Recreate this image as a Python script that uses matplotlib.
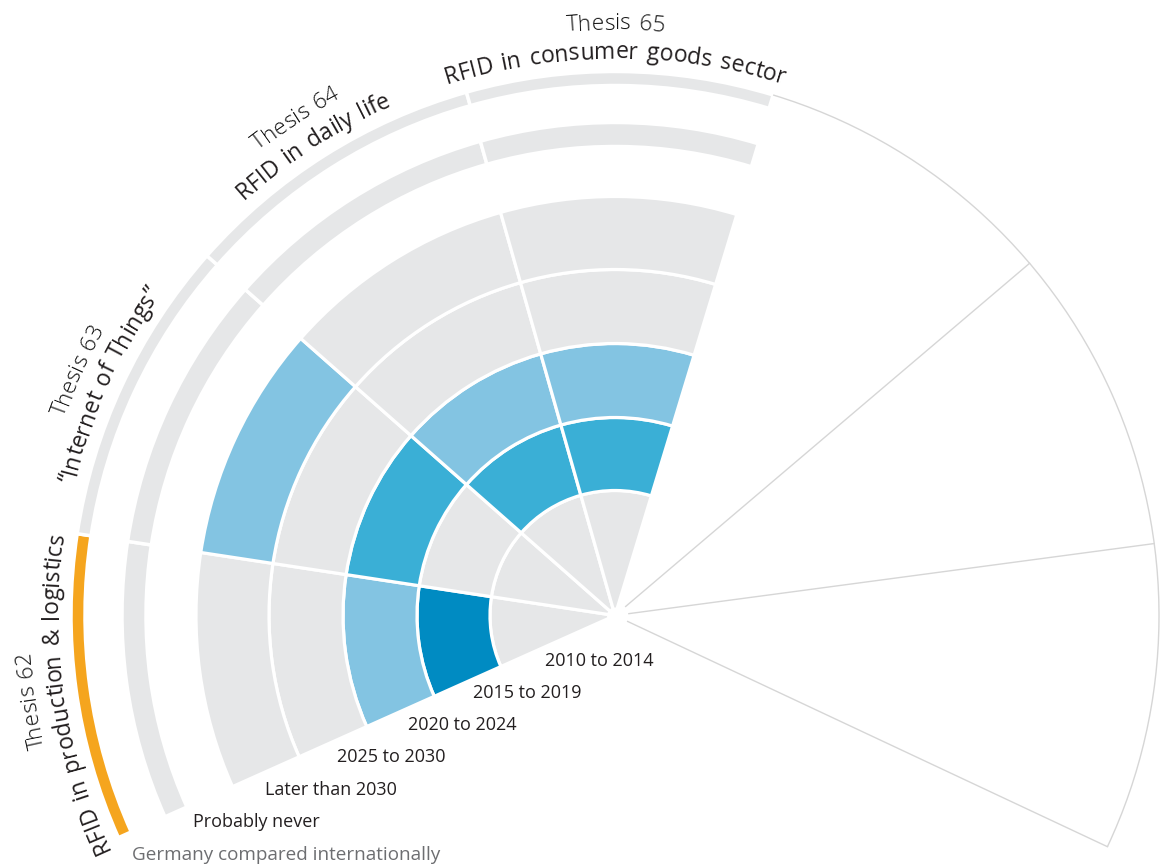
import math
import matplotlib
matplotlib.use('Agg')
import matplotlib.pyplot as plt
from matplotlib import font_manager
from matplotlib.patches import Wedge, Circle, Arc
from matplotlib.font_manager import FontProperties

# rings from the centre outwards
years = ["2010 to 2014", "2015 to 2019", "2020 to 2024", "2025 to 2030",
         "Later than 2030", "Probably never"]
extra_ring = "Germany compared internationally"

theses = ["Thesis 62", "Thesis 63", "Thesis 64", "Thesis 65"]
subtitles = ["RFID in production & logistics", "\u201cInternet of Things\u201d",
             "RFID in daily life", "RFID in consumer goods sector"]

# shade level per ring (0 = grey, 1 = light, 2 = medium, 3 = dark)
t62 = [0, 3, 1, 0, 0, 0]
t63 = [0, 0, 2, 0, 1, 0]
t64 = [0, 2, 1, 0, 0, 0]
t65 = [0, 2, 1, 0, 0, 0]
levels = [t62, t63, t64, t65]

# Germany compared internationally (1 = highlighted)
germany = [1, 0, 0, 0]

n_empty = 3  # empty sectors on the right

# styling / geometry
shade = ["#e6e7e8", "#83c4e2", "#3aafd6", "#008bc2"]
orange = "#f5a51e"
ring_edges = [0, 125, 198, 272, 346, 419]
never_band = (469, 493)
germany_band = (530, 544)
step = 32.75
start = 73.1
W, H = 1161, 868
cx, cy = 615, 615.5

fig = plt.figure(figsize=(W / 100, H / 100), dpi=100)
ax = fig.add_axes([0, 0, 1, 1])
ax.set_xlim(-cx, W - cx)
ax.set_ylim(-(H - cy), cy)
ax.set_aspect('equal')
ax.axis('off')

# thesis sectors, 65 is the right-most, 62 the lowest
for k, lv in enumerate(levels):
    t1 = start + (3 - k) * step
    t2 = t1 + step
    for i in range(5):
        r_in, r_out = ring_edges[i], ring_edges[i + 1]
        ax.add_patch(Wedge((0, 0), r_out, t1, t2, width=r_out - r_in,
                           facecolor=shade[lv[i]], edgecolor='white', lw=2.3))
    ax.add_patch(Wedge((0, 0), never_band[1], t1, t2,
                       width=never_band[1] - never_band[0],
                       facecolor=shade[lv[5]], edgecolor='white', lw=2.5))
    col = orange if germany[k] else shade[0]
    ax.add_patch(Wedge((0, 0), germany_band[1], t1, t2,
                       width=germany_band[1] - germany_band[0],
                       facecolor=col, edgecolor='white', lw=2.5))

# empty sectors on the right
outline = "#d6d6d6"
r_max = germany_band[1]
for j in range(1, n_empty + 1):
    a = math.radians(start - j * step)
    ax.plot([14 * math.cos(a), r_max * math.cos(a)],
            [14 * math.sin(a), r_max * math.sin(a)], color=outline, lw=1.0)
ax.add_patch(Arc((0, 0), 2 * r_max, 2 * r_max, theta1=start - n_empty * step,
                 theta2=start, color=outline, lw=1.0))
ax.add_patch(Circle((0, 0), 8, facecolor='white', edgecolor='none', zorder=5))

# ring labels along the lower edge
lab_font = FontProperties(family='Open Sans', size=13)
ext_font = FontProperties(family='Open Sans', size=13.6)
lab_y = [661, 693, 725, 757, 790, 822, 855]
lab_x = [545, 473, 408, 337, 265, 193, 132]
for i, lab in enumerate(years + [extra_ring]):
    is_ext = lab == extra_ring
    ax.text(lab_x[i] - cx, cy - lab_y[i], lab, ha='left', va='center',
            fontproperties=ext_font if is_ext else lab_font,
            color="#6d6e71" if is_ext else "#231f20")


def advances(s, prop):
    # glyph advance widths in pixels (1 data unit = 1 pixel here)
    font = font_manager.get_font(font_manager.findfont(prop))
    font.set_size(prop.get_size_in_points(), 100)
    out = []
    for ch in s:
        w = font.load_char(ord(ch)).linearHoriAdvance / 65536
        out.append(w * 1.4 if ch == ' ' else w)
    return out


def arc_text(s, r, theta_c, prop, color):
    adv = advances(s, prop)
    total = sum(adv)
    x0 = 0
    for ch, w in zip(s, adv):
        pos = x0 + w / 2 - total / 2
        x0 += w
        if ch == ' ':
            continue
        th = theta_c - math.degrees(pos / r)
        a = math.radians(th)
        ax.text(r * math.cos(a), r * math.sin(a), ch, rotation=th - 90,
                rotation_mode='anchor', ha='center', va='baseline',
                fontproperties=prop, color=color)


head_font = FontProperties(family='Open Sans', size=16.2, weight='light')
sub_font = FontProperties(family='Open Sans', size=16.6)
for k in range(4):
    tc = start + (3 - k) * step + step / 2 + 0.5
    arc_text(theses[k], 586, tc, head_font, "#111111")
    arc_text(subtitles[k], 557, tc, sub_font, "#231f20")

fig.savefig("out.png", dpi=100)
